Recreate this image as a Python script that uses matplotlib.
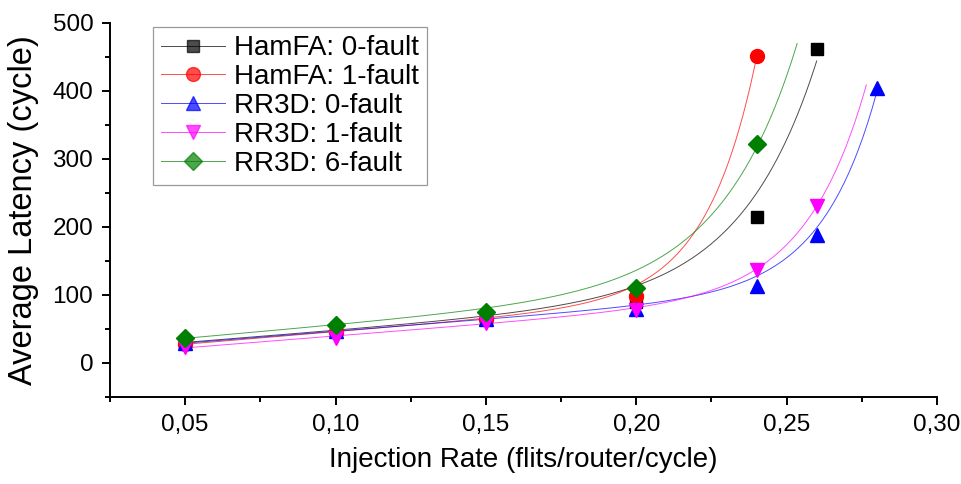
import numpy as np
import matplotlib
matplotlib.use("Agg")
import matplotlib.pyplot as plt
from matplotlib.ticker import FuncFormatter, MultipleLocator

plt.rcParams['font.family'] = ['Liberation Sans', 'DejaVu Sans']

labels = ["HamFA: 0-fault", "HamFA: 1-fault", "RR3D: 0-fault", "RR3D: 1-fault", "RR3D: 6-fault"]
x_hamfa0 = [0.05, 0.10, 0.15, 0.20, 0.24, 0.26]
y_hamfa0 = [30, 48, 65, 90, 215, 462]
x_hamfa1 = [0.05, 0.10, 0.15, 0.20, 0.24]
y_hamfa1 = [28, 45, 65, 98, 451]
x_rr0 = [0.05, 0.10, 0.15, 0.20, 0.24, 0.26, 0.28]
y_rr0 = [29, 47, 64, 80, 113, 188, 404]
x_rr1 = [0.05, 0.10, 0.15, 0.20, 0.24, 0.26]
y_rr1 = [24, 36, 59, 78, 137, 231]
x_rr6 = [0.05, 0.10, 0.15, 0.20, 0.24]
y_rr6 = [36, 56, 75, 111, 322]
# growth rate of each fitted curve and where it stops
fit_rate = [40, 60, 55, 50, 40]
curve_end = [0.26, 0.24, 0.28, 0.2765, 0.2535]
linear_region_max = 0.15

colors = ['black', 'red', 'blue', 'magenta', 'green']
markers = ['s', 'o', '^', 'v', 'D']
msizes = [9, 10, 10, 10, 9]
xs = [x_hamfa0, x_hamfa1, x_rr0, x_rr1, x_rr6]
ys = [y_hamfa0, y_hamfa1, y_rr0, y_rr1, y_rr6]


def fit_curve(x, y, r):
    # linear trend from the low-load points + exponential growth fitted to the rest
    x = np.asarray(x, float); y = np.asarray(y, float)
    low = x <= linear_region_max + 1e-9
    b, a = np.polyfit(x[low], y[low], 1)
    res = y - (a + b * x)
    e = np.exp(r * x)
    c = np.sum(res * e) / np.sum(e * e)
    return lambda t: a + b * t + c * np.exp(r * t)


fig = plt.figure(figsize=(9.62, 4.84), dpi=100)
ax = fig.add_axes([0.1143, 0.1798, 0.974 - 0.1143, 0.9525 - 0.1798])

handles = []
for x, y, c, m, ms, lab, r, xe in zip(xs, ys, colors, markers, msizes, labels, fit_rate, curve_end):
    f = fit_curve(x, y, r)
    xx = np.linspace(0.05, xe, 300)
    ax.plot(xx, f(xx), color=c, lw=0.7, alpha=0.7, zorder=2)
    ax.plot(x, y, linestyle='none', marker=m, color=c, markersize=ms, zorder=3)
    h, = ax.plot([], [], color=c, lw=0.7, alpha=0.7, marker=m, markersize=ms,
                 markerfacecolor=c, markeredgecolor=c, label=lab)
    handles.append(h)

ax.set_xlim(0.025, 0.30)
ax.set_ylim(-50, 500)
ax.xaxis.set_major_locator(MultipleLocator(0.05))
ax.xaxis.set_minor_locator(MultipleLocator(0.025))
ax.yaxis.set_major_locator(MultipleLocator(100))
ax.yaxis.set_minor_locator(MultipleLocator(50))
ax.xaxis.set_major_formatter(FuncFormatter(lambda v, p: ("%.2f" % v).replace('.', ',') if v > 0.03 else ""))
ax.spines['top'].set_visible(False)
ax.spines['right'].set_visible(False)
for s in ['left', 'bottom']:
    ax.spines[s].set_linewidth(1.4)
ax.tick_params(which='major', direction='out', length=6, width=1.4, labelsize=17.5, pad=6)
ax.tick_params(which='minor', direction='out', length=3.5, width=1.4)

ax.set_xlabel("Injection Rate (flits/router/cycle)", fontsize=20, labelpad=8)
ax.set_ylabel("Average Latency (cycle)", fontsize=23.5, labelpad=10)

leg = ax.legend(handles=handles, loc='upper left', bbox_to_anchor=(0.052, 0.989),
                borderaxespad=0, fontsize=20, frameon=True, fancybox=False, edgecolor='gray',
                handlelength=2.3, handletextpad=0.3, labelspacing=0.1, borderpad=0.3)
leg.get_frame().set_linewidth(0.9)

fig.savefig("out.png", dpi=100)
